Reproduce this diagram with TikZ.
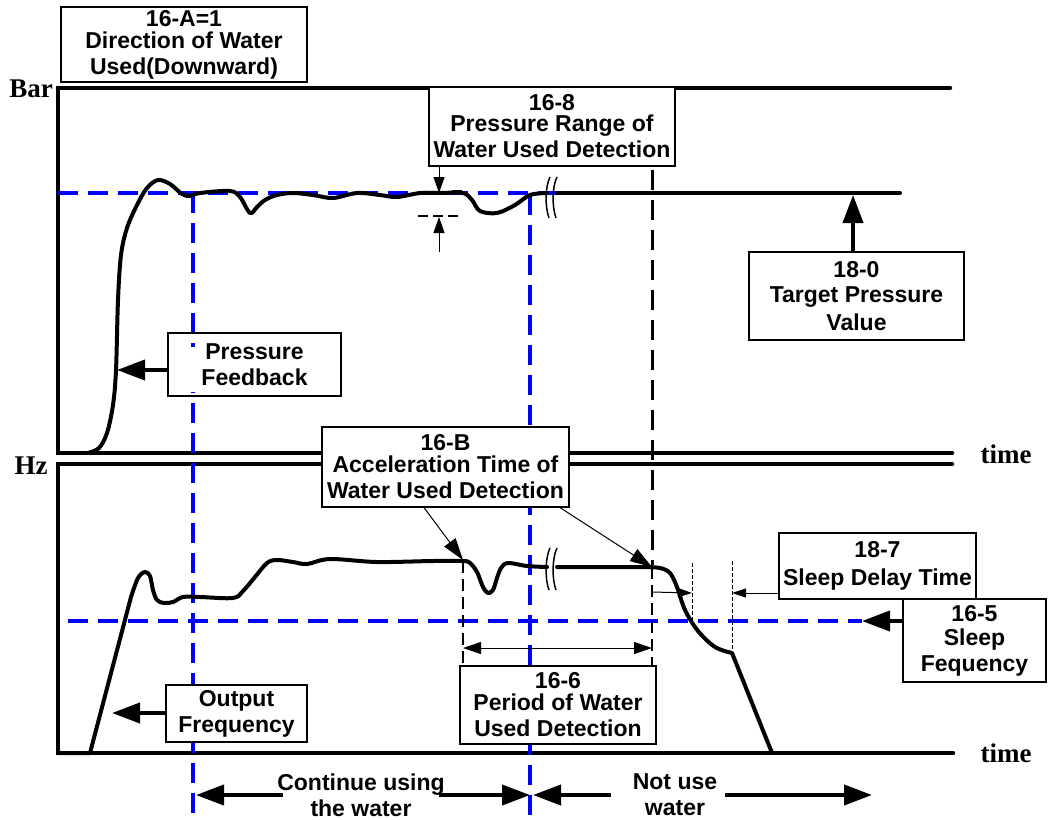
\documentclass[tikz,border=0pt]{standalone}
\usepackage{fontspec}
\newfontfamily\lab{Liberation Sans}
\newfontfamily\tms{Liberation Serif}
\usetikzlibrary{arrows.meta}
\tikzset{
 box/.style={draw, line width=1.2pt, fill=white, inner sep=0pt, align=center,
   font=\lab\bfseries\fontsize{23}{26}\selectfont},
 note/.style={inner sep=0pt, align=center, font=\lab\bfseries\fontsize{23}{26}\selectfont},
 axlab/.style={inner sep=0pt, anchor=base, font=\tms\bfseries\fontsize{27}{30}\selectfont},
 axis/.style={line width=4.5pt, line cap=round, line join=miter},
 crv/.style={line width=4pt, line join=round, line cap=round},
 bdash/.style={blue, line width=3.2pt, dash pattern=on 20pt off 10pt},
 kdash/.style={black, line width=3pt, dash pattern=on 20pt off 10pt},
 tdash/.style={black, line width=1.5pt, dash pattern=on 12pt off 6pt},
 fdash/.style={black, line width=1pt, dash pattern=on 4pt off 2pt},
 bigarr/.style={line width=4pt, -{Triangle[length=28pt,width=20pt]}},
 thinarr/.style={line width=1pt, -{Triangle[length=16pt,width=11pt]}},
 midarr/.style={line width=1pt, -{Triangle[length=22pt,width=14pt]}},
 smarr/.style={line width=1pt, -{Triangle[length=14pt,width=9pt]}},
 brk/.style={line width=1.5pt},
}
\begin{document}
\begin{tikzpicture}[x=1pt,y=-1pt]
\useasboundingbox[fill=white] (0,0) rectangle (1048,819);

% axes
\draw[axis] (950,88) -- (58,88) -- (58,453) -- (952,453);
\draw[axis] (952,464) -- (58,464) -- (58,753) -- (953,753);
\node[axlab] (bar) at (31,97) {Bar};
\node[axlab] (hz) at (31,474) {Hz};
\node[axlab] (t1) at (1006,463) {time};
\node[axlab] (t2) at (1006,762) {time};

% blue reference lines
\draw[bdash] (58,193) -- (900,193);
\draw[bdash] (68,621) -- (862,621);
\draw[bdash] (193,193) -- (193,819);
\draw[bdash] (530,195) -- (530,819);

% black dashed lines
\draw[kdash] (652,170) -- (652,565);
\draw[tdash] (652,567) -- (652,666);
\draw[tdash] (463,561) -- (463,666);
\draw[fdash] (692,563) -- (692,620);
\draw[fdash] (732,561) -- (732,650);

% pressure curve
\draw[crv] plot[smooth, tension=0.55] coordinates {(88,453) (99,448) (107,433) (113,405) (116,370) (118,300) (121,255) (127,228) (137,205) (147,188) (158,180) (170,184) (182,194) (190,196) (200,193) (230,191) (240,197) (250,213) (257,207) (265,200) (277,195) (293,193) (313,195) (333,198) (357,193) (380,195) (397,197) (420,193) (440,193) (463,193) (472,200) (480,211) (497,213) (515,205) (530,195) (547,193)};
\draw[crv] (557,193) -- (900,193);
\draw[brk] (550,177) .. controls (545,187) and (545,207) .. (549,218);
\draw[brk] (557,177) .. controls (552,187) and (552,207) .. (556,218);

% frequency curve
\draw[crv] (58,753) -- (90,753) -- plot[smooth, tension=0.55] coordinates {(131,597) (138,578) (145,572) (150,576) (153,590) (157,600) (164,603) (173,602) (183,597) (200,597) (233,598) (243,591) (255,577) (267,563) (277,560) (293,562) (307,564) (330,559) (377,562) (433,561) (463,561) (470,563) (477,572) (483,587) (488,593) (493,590) (497,578) (501,568) (508,563) (527,566) (547,567)};
\draw[crv] (557,567) -- plot[smooth, tension=0.55] coordinates {(645,567) (660,568) (670,573) (677,587) (685,610) (698,631) (715,647) (732,653)} -- (772,753);
\draw[brk] (550,548) .. controls (545,558) and (545,580) .. (549,590);
\draw[brk] (557,548) .. controls (552,558) and (552,580) .. (556,590);

% pressure range marks
\draw[line width=1.2pt] (452,191) -- (462,191);
\draw[line width=1.2pt, dash pattern=on 10pt off 5pt] (418,216) -- (463,216);

% boxes
\node[box, minimum width=246pt, minimum height=75pt] (n16a) at (184,44.5) {16-A=1\\[-4pt]Direction of Water\\Used(Downward)};
\node[box, minimum width=246pt, minimum height=79pt] (n168) at (552,126.5) {16-8\\[-5pt]Pressure Range of\\Water Used Detection};
\node[box, minimum width=215pt, minimum height=88pt] (n180) at (856.5,296) {18-0\\[-1pt]Target Pressure\\[2pt]Value};
\fill[white] (170,347) rectangle (339,392);
\node[box, fill=none, minimum width=173pt, minimum height=63pt] (npf) at (254.5,364.5) {Pressure\\Feedback};
\node[box, minimum width=247pt, minimum height=80pt] (n16b) at (445.5,467) {16-B\\[-4pt]Acceleration Time of\\Water Used Detection};
\node[box, minimum width=197pt, minimum height=66pt] (n187) at (877.5,566) {18-7\\[2pt]Sleep Delay Time};
\node[box, minimum width=143pt, minimum height=83pt] (n165) at (974.5,640.5) {16-5\\[-2pt]Sleep\\Fequency};
\node[box, minimum width=196pt, minimum height=78pt] (n166) at (558,705) {16-6\\[-4pt]Period of Water\\Used Detection};
\node[box, minimum width=141pt, minimum height=57pt] (nof) at (236.5,713.5) {Output\\Frequency};

% coordinates
\coordinate (pfTip) at (117,370);
\coordinate (tpTip) at (853,195);
\coordinate (r8a) at (439,193);
\coordinate (r8b) at (439,217);
\coordinate (r8c) at (439,252);
\coordinate (bTip1) at (463,560);
\coordinate (bTip2) at (652,567);
\coordinate (ofTip) at (112,713);
\coordinate (sfTip) at (862,621);
\coordinate (d0) at (652,592);
\coordinate (d1) at (692,593);
\coordinate (d2) at (732,593);
\coordinate (p1) at (463,648);
\coordinate (p2) at (652,648);
\coordinate (L1) at (196,795);
\coordinate (R1) at (530,795);
\coordinate (L2) at (533,795);
\coordinate (R2) at (872,795);

% arrows
\draw[bigarr] (npf.west |- pfTip) -- (pfTip);
\draw[bigarr] (n180.north -| tpTip) -- (tpTip);
\draw[thinarr] (n168.south -| r8a) -- (r8a);
\draw[thinarr] (r8c) -- (r8b);
\draw[midarr] ([xshift=-21.5pt]n16b.south) -- (bTip1);
\draw[midarr] ([xshift=114.5pt]n16b.south) -- (bTip2);
\draw[smarr] (n187.west |- d2) -- (d2);
\draw[smarr] (d0) -- (d1);
\draw[bigarr] (n165.west |- sfTip) -- (sfTip);
\draw[line width=1pt, {Triangle[length=18pt,width=12pt]}-{Triangle[length=18pt,width=12pt]}] (p1) -- (p2);
\draw[bigarr] (nof.west |- ofTip) -- (ofTip);

% bottom annotations
\node[note] (tc) at (361,795) {Continue using\\the water};
\node[note] (tn) at (675,795) {Not use\\water};
\draw[bigarr] ([xshift=6pt]tc.west) -- (L1);
\draw[bigarr] ([xshift=-6pt]tc.east) -- (R1);
\draw[bigarr] ([xshift=-22pt]tn.west) -- (L2);
\draw[bigarr] ([xshift=8pt]tn.east) -- (R2);
\end{tikzpicture}
\end{document}
